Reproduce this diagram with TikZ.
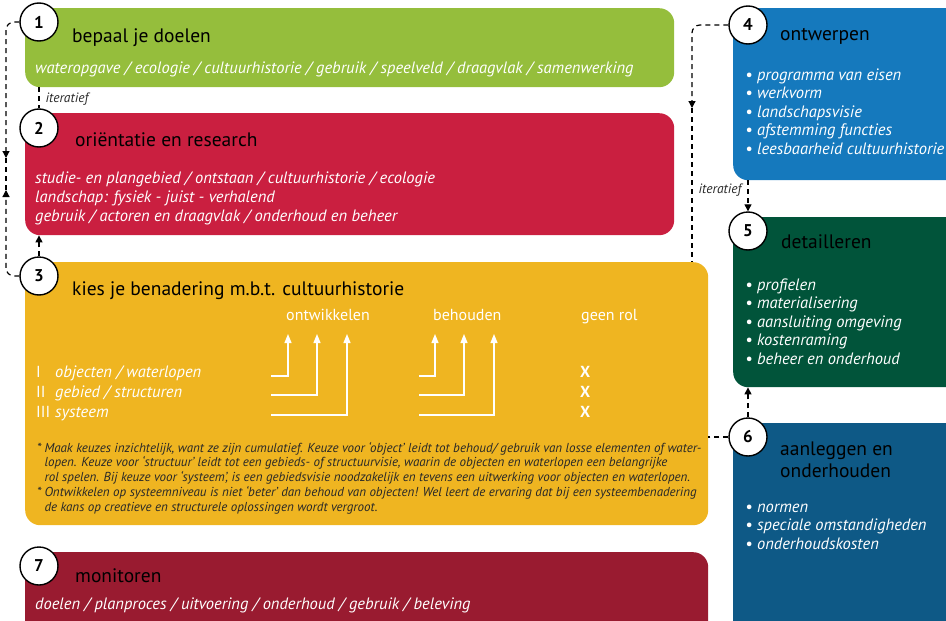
\documentclass[tikz,border=0pt]{standalone}
\usepackage{fontspec}
\setmainfont{PT Sans}
\usetikzlibrary{arrows.meta, positioning}

\definecolor{groen}{RGB}{149,190,60}
\definecolor{rood}{RGB}{202,31,64}
\definecolor{geel}{RGB}{239,181,33}
\definecolor{wijnrood}{RGB}{153,27,48}
\definecolor{blauw}{RGB}{21,121,189}
\definecolor{donkergroen}{RGB}{1,84,58}
\definecolor{donkerblauw}{RGB}{14,89,134}
\definecolor{tekstgrijs}{RGB}{40,40,40}

\begin{document}
\begin{tikzpicture}[x=1pt, y=-1pt,
    fase/.style={rounded corners=15pt, anchor=north west, inner sep=0pt},
    nummer/.style={circle, draw, line width=1.4pt, fill=white, minimum size=38pt, inner sep=0pt, font=\bfseries\fontsize{17}{17}\selectfont},
    titel/.style={anchor=base west, inner sep=0pt, font=\fontsize{19.5}{22}\selectfont, align=left},
    sub/.style={anchor=base west, inner sep=0pt, text=white, font=\itshape\fontsize{16.5}{18.5}\selectfont, align=left},
    kop/.style={anchor=base west, inner sep=0pt, text=white, font=\fontsize{16}{16}\selectfont},
    kruis/.style={anchor=base west, inner sep=0pt, text=white, font=\bfseries\fontsize{16}{16}\selectfont},
    noot/.style={anchor=base west, inner sep=0pt, text=tekstgrijs, font=\itshape\fontsize{13}{14.75}\selectfont},
    iterlabel/.style={inner sep=0pt, text=tekstgrijs, font=\itshape\fontsize{13.5}{13.5}\selectfont},
    stippel/.style={line width=1.2pt, dash pattern=on 5pt off 4pt},
    iter/.style={stippel, -{Triangle[length=7pt, width=7pt]}},
    tabpijl/.style={white, line width=1.2pt, -{Triangle[length=9pt, width=7pt]}}
]
    \clip (0,0) rectangle (946,621);

    % Fases (vakken)
    \node[fase, fill=groen, minimum width=649pt, minimum height=79pt] (doelen) at (25,8) {};
    \node[fase, fill=rood, minimum width=649pt, minimum height=122pt] (onderzoek) at (25,113) {};
    \node[fase, fill=geel, minimum width=683pt, minimum height=263pt] (keuze) at (25,262) {};
    \node[fase, fill=wijnrood, minimum width=683pt, minimum height=90pt] (monitor) at (25,552) {};
    \node[fase, fill=blauw, minimum width=230pt, minimum height=172pt] (ontwerp) at (733,8) {};
    \node[fase, fill=donkergroen, minimum width=230pt, minimum height=170pt] (detail) at (733,217) {};
    \node[fase, fill=donkerblauw, minimum width=230pt, minimum height=220pt] (aanleg) at (733,423) {};

    % Nummers
    \node[nummer] (n1) at (39,22) {1};
    \node[nummer] (n2) at (39,128) {2};
    \node[nummer] (n3) at (39,276) {3};
    \node[nummer] (n4) at (748,25) {4};
    \node[nummer] (n5) at (748,231) {5};
    \node[nummer] (n6) at (748,437) {6};
    \node[nummer] (n7) at (39,566) {7};

    % 1 bepaal je doelen
    \node[titel] (titel1) at (72,42) {bepaal je doelen};
    \node[sub] (sub1) at (35,73) {wateropgave / ecologie / cultuurhistorie / gebruik / speelveld / draagvlak / samenwerking};

    % 2 orientatie en research (basislijn = laatste regel)
    \node[titel] (titel2) at (75,146) {oriëntatie en research};
    \node[sub, font=\itshape\fontsize{16.5}{19}\selectfont] (sub2) at (35,221) {studie- en plangebied / ontstaan / cultuurhistorie / ecologie\\
        landschap: fysiek - juist - verhalend\\
        gebruik / actoren en draagvlak / onderhoud en beheer};

    % 3 kies je benadering
    \node[titel] (titel3) at (72,295) {kies je benadering m.b.t. cultuurhistorie};
    \node[kop] (ontw) at (286,320) {ontwikkelen};
    \node[kop] (behoud) at (433,320) {behouden};
    \node[kop] (geenrol) at (581,320) {geen rol};

    \node[kop] (romI) at (36,377) {I};
    \node[kop] (romII) at (36,397) {II};
    \node[kop] (romIII) at (36,417) {III};
    \node[sub] (rijI) at (55,377) {objecten / waterlopen};
    \node[sub] (rijII) at (55,397) {gebied / structuren};
    \node[sub] (rijIII) at (55,417) {systeem};

    \node[kruis] (xI) at (580,377) {X};
    \node[kruis] (xII) at (580,397) {X};
    \node[kruis] (xIII) at (580,417) {X};

    \coordinate (oI) at (271,376);  \coordinate (oIkop) at (288,334);
    \coordinate (oII) at (271,395); \coordinate (oIIkop) at (317,334);
    \coordinate (oIII) at (271,415); \coordinate (oIIIkop) at (347,334);
    \coordinate (bI) at (419,376);  \coordinate (bIkop) at (435,334);
    \coordinate (bII) at (419,395); \coordinate (bIIkop) at (464,334);
    \coordinate (bIII) at (419,415); \coordinate (bIIIkop) at (494,334);
    \draw[tabpijl] (oI) -| (oIkop);
    \draw[tabpijl] (oII) -| (oIIkop);
    \draw[tabpijl] (oIII) -| (oIIIkop);
    \draw[tabpijl] (bI) -| (bIkop);
    \draw[tabpijl] (bII) -| (bIIkop);
    \draw[tabpijl] (bIII) -| (bIIIkop);

    \node[noot] (noten) at (37,452) {\begin{tabular}[t]{@{}l@{\hspace{3pt}}l@{}}
        {*} & Maak keuzes inzichtelijk, want ze zijn cumulatief. Keuze voor ‘object’ leidt tot behoud/ gebruik van losse elementen of water-\\
          & lopen. Keuze voor ‘structuur’ leidt tot een gebieds- of structuurvisie, waarin de objecten en waterlopen een belangrijke\\
          & rol spelen. Bij keuze voor ‘systeem’, is een gebiedsvisie noodzakelijk en tevens een uitwerking voor objecten en waterlopen.\\
        {*} & Ontwikkelen op systeemniveau is niet ‘beter’ dan behoud van objecten! Wel leert de ervaring dat bij een systeembenadering\\
          & de kans op creatieve en structurele oplossingen wordt vergroot.
    \end{tabular}};

    % 7 monitoren
    \node[titel] (titel7) at (75,582) {monitoren};
    \node[sub] (sub7) at (35,609) {doelen / planproces / uitvoering / onderhoud / gebruik / beleving};

    % 4 ontwerpen
    \node[titel] (titel4) at (780,40) {ontwerpen};
    \node[sub] (sub4) at (745,154) {• programma van eisen\\
        • werkvorm\\
        • landschapsvisie\\
        • afstemming functies\\
        • leesbaarheid cultuurhistorie};

    % 5 detailleren
    \node[titel] (titel5) at (781,248) {detailleren};
    \node[sub] (sub5) at (745,364) {• profielen\\
        • materialisering\\
        • aansluiting omgeving\\
        • kostenraming\\
        • beheer en onderhoud};

    % 6 aanleggen en onderhouden
    \node[titel] (titel6) at (780,477) {aanleggen en\\onderhouden};
    \node[sub] (sub6) at (745,549) {• normen\\
        • speciale omstandigheden\\
        • onderhoudskosten};

    % Iteraties
    \coordinate (linksneer) at (6,158);
    \coordinate (linksop) at (6,190);
    \draw[iter, rounded corners=8pt] (n1.west) -| (linksneer);
    \draw[iter, rounded corners=8pt] (n3.west) -| (linksop);
    \draw[stippel] (linksneer) -- (linksop);

    \draw[stippel] (doelen.south -| n2.north) -- (n2.north)
        node[iterlabel, pos=0.55, right=6pt] (iter12) {iteratief};
    \draw[iter] (n3.north) -- (n3.north |- onderzoek.south);

    \coordinate (rechtsneer) at (692,108);
    \draw[iter, rounded corners=8pt] (n4.west) -| (rechtsneer);
    \draw[stippel] (rechtsneer) -- (rechtsneer |- keuze.north);

    \draw[iter] (ontwerp.south -| n5.north) -- (n5.north)
        node[iterlabel, pos=0.3, left=6pt] (iter45) {iteratief};
    \draw[iter] (n6.north) -- (n6.north |- detail.south);
    \draw[stippel] (n6.west) -- (n6.west -| keuze.east);
\end{tikzpicture}
\end{document}
